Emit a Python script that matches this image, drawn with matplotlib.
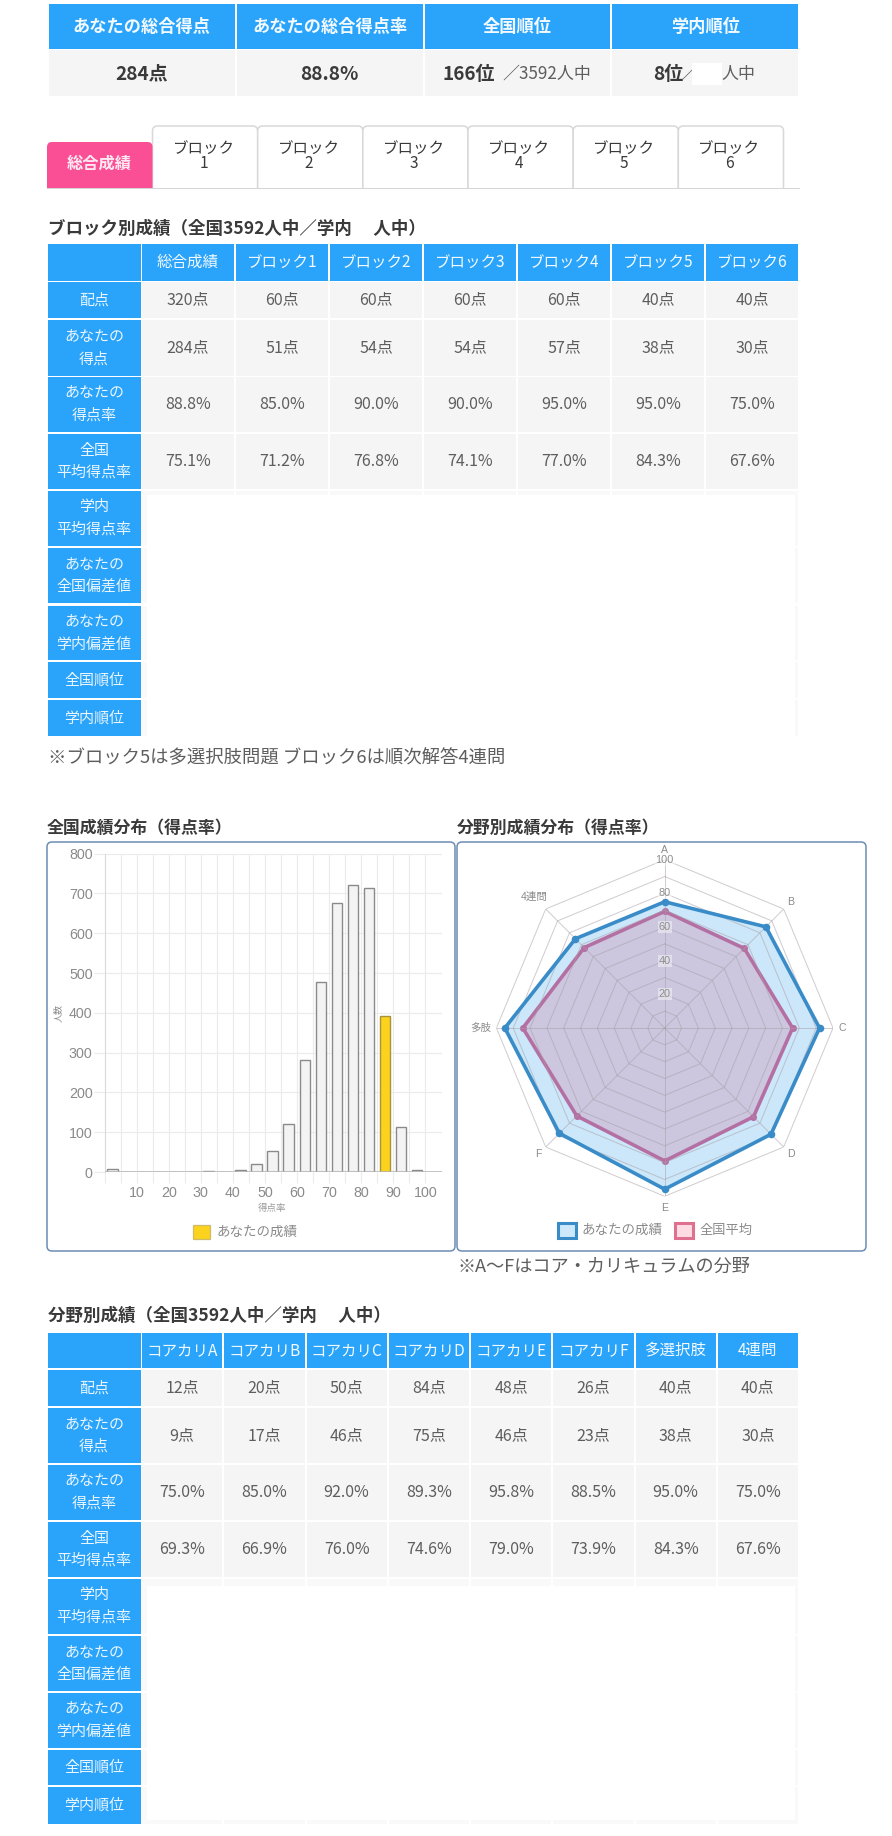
import numpy as np
import matplotlib
matplotlib.use("Agg")
import matplotlib.pyplot as plt
from matplotlib.patches import Rectangle, FancyBboxPatch

W, H, DPI = 892, 1836, 100
CJK = ['Noto Sans CJK JP', 'DejaVu Sans']
LAT = ['Liberation Sans', 'Noto Sans CJK JP', 'DejaVu Sans']
plt.rcParams['font.family'] = CJK

BLUE = '#2AA3FB'; PINK = '#FA4F95'; GREYC = '#F5F5F5'; TXT = '#5E5E5E'; DARK = '#3A3A3A'

# ---------- data ----------
top_headers = ['あなたの総合得点', 'あなたの総合得点率', '全国順位', '学内順位']
top_score = '284点'
top_rate = '88.8%'
national_rank = '166位'
national_of = '／3592人中'
school_rank = '8位'
school_of = '人中'

tabs = ['ブロック\n1', 'ブロック\n2', 'ブロック\n3', 'ブロック\n4', 'ブロック\n5', 'ブロック\n6']
active_tab = '総合成績'

row_labels = ['配点', 'あなたの\n得点', 'あなたの\n得点率', '全国\n平均得点率', '学内\n平均得点率',
              'あなたの\n全国偏差値', 'あなたの\n学内偏差値', '全国順位', '学内順位']

block_title = 'ブロック別成績（全国3592人中／学内　 人中）'
block_cols = ['総合成績', 'ブロック1', 'ブロック2', 'ブロック3', 'ブロック4', 'ブロック5', 'ブロック6']
block_points = ['320点', '60点', '60点', '60点', '60点', '40点', '40点']
block_score = ['284点', '51点', '54点', '54点', '57点', '38点', '30点']
block_rate = ['88.8%', '85.0%', '90.0%', '90.0%', '95.0%', '95.0%', '75.0%']
block_avg = ['75.1%', '71.2%', '76.8%', '74.1%', '77.0%', '84.3%', '67.6%']
block_note = '※ブロック5は多選択肢問題 ブロック6は順次解答4連問'

field_title = '分野別成績（全国3592人中／学内　 人中）'
field_cols = ['コアカリA', 'コアカリB', 'コアカリC', 'コアカリD', 'コアカリE', 'コアカリF', '多選択肢', '4連問']
field_points = ['12点', '20点', '50点', '84点', '48点', '26点', '40点', '40点']
field_score = ['9点', '17点', '46点', '75点', '46点', '23点', '38点', '30点']
field_rate = ['75.0%', '85.0%', '92.0%', '89.3%', '95.8%', '88.5%', '95.0%', '75.0%']
field_avg = ['69.3%', '66.9%', '76.0%', '74.6%', '79.0%', '73.9%', '84.3%', '67.6%']

hist_title = '全国成績分布（得点率）'
hist_left = [0, 5, 10, 15, 20, 25, 30, 35, 40, 45, 50, 55, 60, 65, 70, 75, 80, 85, 90, 95]
hist_counts = [7, 0, 0, 1, 0, 0, 2, 1, 5, 20, 52, 120, 282, 478, 675, 722, 715, 392, 113, 5]
hist_you_bin = 85
hist_yticks = [0, 100, 200, 300, 400, 500, 600, 700, 800]
hist_xlabels = [10, 20, 30, 40, 50, 60, 70, 80, 90, 100]

radar_title = '分野別成績分布（得点率）'
radar_axes = ['A', 'B', 'C', 'D', 'E', 'F', '多肢', '4連問']
radar_you = [75.0, 85.0, 92.0, 89.3, 95.8, 88.5, 95.0, 75.0]
radar_avg = [69.3, 66.9, 76.0, 74.6, 79.0, 73.9, 84.3, 67.6]
radar_ticks = [20, 40, 60, 80, 100]
radar_note = '※A〜Fはコア・カリキュラムの分野'
legend_you = 'あなたの成績'
legend_avg = '全国平均'

# ---------- helpers ----------
fig = plt.figure(figsize=(W / DPI, H / DPI), dpi=DPI, facecolor='white')
ov = fig.add_axes([0, 0, 1, 1], zorder=0)
ov.set_xlim(0, W); ov.set_ylim(H, 0); ov.axis('off')


def px(p):
    return p * 0.72


def rect(x0, y0, x1, y1, c, z=1):
    ov.add_patch(Rectangle((x0, y0), x1 - x0, y1 - y0, fc=c, ec='none', zorder=z))


def label(x, y, s, size, color=TXT, weight='normal', ha='center', family=None, z=5, rotation=0):
    ov.text(x, y, s, fontsize=px(size), color=color, fontweight=weight, ha=ha, va='center',
            family=family or CJK, zorder=z, rotation=rotation)


def cell_text(x, y, s, size, color, gap=22):
    parts = s.split('\n')
    for i, part in enumerate(parts):
        label(x, y + (i - (len(parts) - 1) / 2) * gap, part, size, color)


def table(title, title_y, head, rows_y, cols, body, head_size, x_edges, white_y):
    label(48, title_y, title, 17.5, DARK, 'bold', 'left')
    rect(48, head[0], 140.5, head[1], BLUE)
    for i, c in enumerate(cols):
        rect(x_edges[i] + 1, head[0], x_edges[i + 1] - 1, head[1], BLUE)
        cell_text((x_edges[i] + x_edges[i + 1]) / 2, (head[0] + head[1]) / 2, c, head_size, '#F2FAFF')
    for r, lab in enumerate(row_labels):
        y0, y1 = rows_y[r]
        rect(48, y0, 140.5, y1, BLUE)
        cell_text(94, (y0 + y1) / 2, lab, 15, '#EAF6FF')
        for i in range(len(cols)):
            rect(x_edges[i] + 1, y0, x_edges[i + 1] - 1, y1, GREYC if r < len(body) else '#F9F9F9')
            if r < len(body):
                cell_text((x_edges[i] + x_edges[i + 1]) / 2, (y0 + y1) / 2, body[r][i], 16, TXT)
    rect(147, white_y[0], 795, white_y[1], 'white', z=2)


# ---------- top table ----------
top_edges = np.linspace(48, 799, 5)
for i, h in enumerate(top_headers):
    rect(top_edges[i] + 1, 4, top_edges[i + 1] - 1, 49, BLUE)
    rect(top_edges[i] + 1, 50, top_edges[i + 1] - 1, 96, GREYC)
    label((top_edges[i] + top_edges[i + 1]) / 2, 27.5, h, 17.2, '#F2FAFF', 'bold')
label((top_edges[0] + top_edges[1]) / 2, 74, top_score, 19, DARK, 'bold')
label((top_edges[1] + top_edges[2]) / 2, 74, top_rate, 19, DARK, 'bold')
label(442.5, 74, national_rank, 19, DARK, 'bold', 'left')
label(591, 74, national_of, 17, TXT, 'normal', 'right')
label(653, 74, school_rank, 19, DARK, 'bold', 'left')
label(680, 74, '／', 17, TXT, 'normal', 'left')
rect(692, 63, 722, 85, 'white', z=6)
label(755.5, 74, school_of, 17, TXT, 'normal', 'right')

# ---------- tabs ----------
tab_edges = np.linspace(152.5, 783.5, 7)
for i, t in enumerate(tabs):
    x0, x1 = tab_edges[i], tab_edges[i + 1]
    ov.add_patch(FancyBboxPatch((x0 + 5, 131), x1 - x0 - 10, 65, boxstyle='round,pad=5', fc='white',
                                ec='#D8D8D8', lw=1.1, zorder=1))
    a, b = t.split('\n')
    label((x0 + x1) / 2 - 1.5, 148, a, 15.5, DARK)
    label((x0 + x1) / 2 - 1.5, 164, b, 15.5, DARK)
ov.add_patch(FancyBboxPatch((52, 147), 95.5, 50, boxstyle='round,pad=5', fc=PINK, ec='none', zorder=1))
rect(40, 188.5, 810, 204, 'white', z=2)
rect(47, 187.5, 800, 189, '#D5D5D5', z=3)
rect(47, 186, 152, 188, PINK, z=3)
label(99.5, 164, active_tab, 16.2, '#FFEAF3', 'bold')

# ---------- block table ----------
rows1 = [(282, 318), (320, 376), (377, 432), (434, 489), (491, 546), (548, 603), (606, 660), (662, 698), (700, 736)]
table(block_title, 229, (244, 281), rows1, block_cols,
      [block_points, block_score, block_rate, block_avg], 15.5, np.linspace(141, 799, 8), (495, 736))
label(48, 758, block_note, 18.4, TXT, 'normal', 'left')

# ---------- field table ----------
rows2 = [(1370, 1406), (1408, 1463), (1465, 1520), (1522, 1577), (1579, 1634), (1636, 1691), (1693, 1748),
         (1750, 1785), (1787, 1824)]
table(field_title, 1316, (1332.5, 1368), rows2, field_cols,
      [field_points, field_score, field_rate, field_avg], 15.5, np.linspace(141, 799, 9), (1586, 1820))

# ---------- chart boxes ----------
for x0, x1 in ((47, 455), (457, 866)):
    ov.add_patch(FancyBboxPatch((x0 + 5, 847), x1 - x0 - 10, 399, boxstyle='round,pad=5', fc='white',
                                ec='#6C8DB3', lw=1.1, zorder=1))
label(47, 828, hist_title, 16.9, DARK, 'bold', 'left')
label(457, 828, radar_title, 16.9, DARK, 'bold', 'left')
label(458, 1267, radar_note, 18.2, TXT, 'normal', 'left')

# ---------- histogram ----------
L, R, T, B = 104.6, 442, 853.7, 1172
ax = fig.add_axes([L / W, 1 - B / H, (R - L) / W, (B - T) / H], zorder=2, facecolor='none')
ax.set_xlim(0, (R - L) / 3.207)
ax.set_ylim(0, 800)
colors = ['#FBD21E' if b == hist_you_bin else '#F3F3F3' for b in hist_left]
edges = ['#A8923A' if b == hist_you_bin else '#8A8A8A' for b in hist_left]
ax.bar(np.array(hist_left) + 2.45, hist_counts, width=3.35, color=colors, edgecolor=edges, linewidth=1.0, zorder=3)
ax.set_axisbelow(True)
ax.set_yticks(hist_yticks)
ax.set_xticks(np.arange(0, 101, 5))
ax.set_xticklabels([str(v) if v in hist_xlabels else '' for v in np.arange(0, 101, 5)])
ax.grid(True, color='#EBEBEB', lw=0.8)
ax.tick_params(axis='both', color='#EBEBEB', length=px(11), width=0.8, labelcolor='#8A8A8A', labelsize=px(14.2), pad=px(1))
ax.tick_params(axis='x', pad=px(3))
for t in ax.get_xticklabels() + ax.get_yticklabels():
    t.set_family(LAT)
for s in ('top', 'right', 'bottom'):
    ax.spines[s].set_visible(False)
ax.spines['left'].set_color('#DADADA')
ax.axhline(0, color='#B5B5B5', lw=1.1, zorder=4)
label(58, 1013, '人数', 9, '#8A8A8A', rotation=90)
label(272, 1208, '得点率', 9.5, '#9A9A9A')
ov.add_patch(Rectangle((192.5, 1225), 17.5, 14, fc='#FBD21E', ec='#CDBB6A', lw=0.9, zorder=3))
label(217, 1232, legend_you, 13.5, '#8A8A8A', 'normal', 'left')

# ---------- radar ----------
cx, cy, rad = 664.7, 1028, 168.3
rax = fig.add_axes([(cx - rad) / W, 1 - (cy + rad) / H, 2 * rad / W, 2 * rad / H], polar=True, zorder=2, facecolor='none')
rax.set_theta_zero_location('N'); rax.set_theta_direction(-1)
rax.set_rlim(0, 100)
rax.axis('off')
theta = np.arange(len(radar_axes)) * 2 * np.pi / len(radar_axes)
th = np.r_[theta, theta[0]]


def closed(v):
    return np.r_[v, v[0]]


rax.fill(th, closed(radar_avg), color='#FF6384', alpha=0.28, lw=0, zorder=2)
rax.plot(th, closed(radar_avg), color='#E0608C', lw=2.6, zorder=3)
rax.scatter(theta, radar_avg, s=26, color='#E0608C', zorder=3, linewidths=0)
rax.fill(th, closed(radar_you), color='#36A2EB', alpha=0.25, lw=0, zorder=4)
for level in range(10, 101, 10):
    rax.plot(th, [level] * len(th), color='#A8A0A8', lw=0.7, alpha=0.55, zorder=4.5)
for t in theta:
    rax.plot([t, t], [0, 100], color='#A8A0A8', lw=0.7, alpha=0.55, zorder=4.5)
rax.plot(th, closed(radar_you), color='#3A8CC8', lw=2.6, zorder=5)
rax.scatter(theta, radar_you, s=30, color='#3A8CC8', zorder=5, linewidths=0)
for v in radar_ticks:
    rax.text(0, v, str(v), fontsize=px(11), color='#8E8E8E', ha='center', va='center', family=LAT, zorder=6,
             bbox=dict(fc='white', ec='none', alpha=0.45, pad=0.6))
lab_r = [105.5, 106, 105.5, 106, 107, 106, 109.5, 110]
for t, s, r in zip(theta, radar_axes, lab_r):
    rax.text(t, r, s, fontsize=px(10.5), color='#8A8A8A', ha='center', va='center', family=LAT, clip_on=False, zorder=6)

ov.add_patch(Rectangle((557.5, 1222.5), 18, 15.5, fc='#CDE8FA', ec='#3A8CC8', lw=2.2, zorder=3))
label(581.5, 1230, legend_you, 13.5, '#8A8A8A', 'normal', 'left')
ov.add_patch(Rectangle((674.5, 1222.5), 18, 15.5, fc='#FFDCE3', ec='#E0708F', lw=2.2, zorder=3))
label(700, 1230, legend_avg, 13.2, '#8A8A8A', 'normal', 'left')

fig.savefig('out.png', dpi=DPI, facecolor='white')
